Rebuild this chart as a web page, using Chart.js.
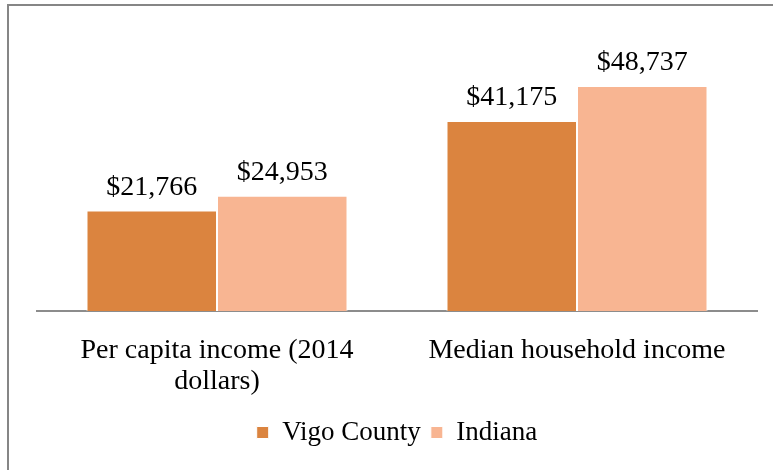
<!DOCTYPE html>
<html>
<head>
<meta charset="utf-8">
<script src="https://cdn.jsdelivr.net/npm/chart.js@4/dist/chart.umd.min.js"></script>
<style>
  body { margin: 0; background: #fff; }
  #wrap { position: absolute; left: 0; top: 0; width: 773px; height: 470px; }
  #frame { position: absolute; left: 7px; top: 4px; width: 800px; height: 500px;
           border-left: 2px solid #868686; border-top: 2px solid #868686; pointer-events: none; }
</style>
</head>
<body>
<div id="wrap"><canvas id="chart"></canvas></div>
<div id="frame"></div>
<script>
const categories = [["Per capita income (2014", "dollars)"], ["Median household income"]];
const vigoCounty = [21766, 41175];
const indiana = [24953, 48737];
const seriesNames = ["Vigo County", "Indiana"];

const serif = "'Liberation Serif', 'DejaVu Serif', serif";

const valueLabels = {
    id: 'valueLabels',
    afterDatasetsDraw(chart) {
        const ctx = chart.ctx;
        ctx.save();
        ctx.font = "28px " + serif;
        ctx.fillStyle = "#000";
        ctx.textAlign = "center";
        ctx.textBaseline = "bottom";
        chart.data.datasets.forEach((ds, i) => {
            chart.getDatasetMeta(i).data.forEach((bar, j) => {
                const v = ds.data[j];
                ctx.fillText("$" + v.toLocaleString("en-US"), bar.x, bar.y - 9);
            });
        });
        ctx.restore();
    }
};

new Chart(document.getElementById("chart"), {
    type: 'bar',
    data: {
        labels: categories,
        datasets: [{
            label: seriesNames[0],
            data: vigoCounty,
            backgroundColor: "#DB843F",
            borderColor: "#ffffff",
            borderWidth: 1,
            categoryPercentage: 0.725,
            barPercentage: 1.0
        }, {
            label: seriesNames[1],
            data: indiana,
            backgroundColor: "#F8B592",
            borderColor: "#ffffff",
            borderWidth: 1,
            categoryPercentage: 0.725,
            barPercentage: 1.0
        }]
    },
    options: {
        responsive: true,
        maintainAspectRatio: false,
        animation: false,
        layout: { padding: { left: 37, right: 16, top: 34, bottom: 14 } },
        plugins: {
            legend: {
                position: 'bottom',
                labels: {
                    boxWidth: 12,
                    boxHeight: 12,
                    padding: 10,
                    color: "#000",
                    font: { family: serif, size: 27 }
                }
            },
            tooltip: { enabled: false }
        },
        scales: {
            x: {
                grid: { display: false, drawTicks: false },
                border: { display: true, color: "#8c8c8c", width: 2 },
                ticks: {
                    color: "#000",
                    padding: 25,
                    maxRotation: 0,
                    font: { family: serif, size: 28, lineHeight: 1.08 }
                },
                afterFit(scale) { scale.height = 98; }
            },
            y: {
                display: false,
                min: 0,
                max: 60000
            }
        }
    },
    plugins: [valueLabels]
});
</script>
</body>
</html>
